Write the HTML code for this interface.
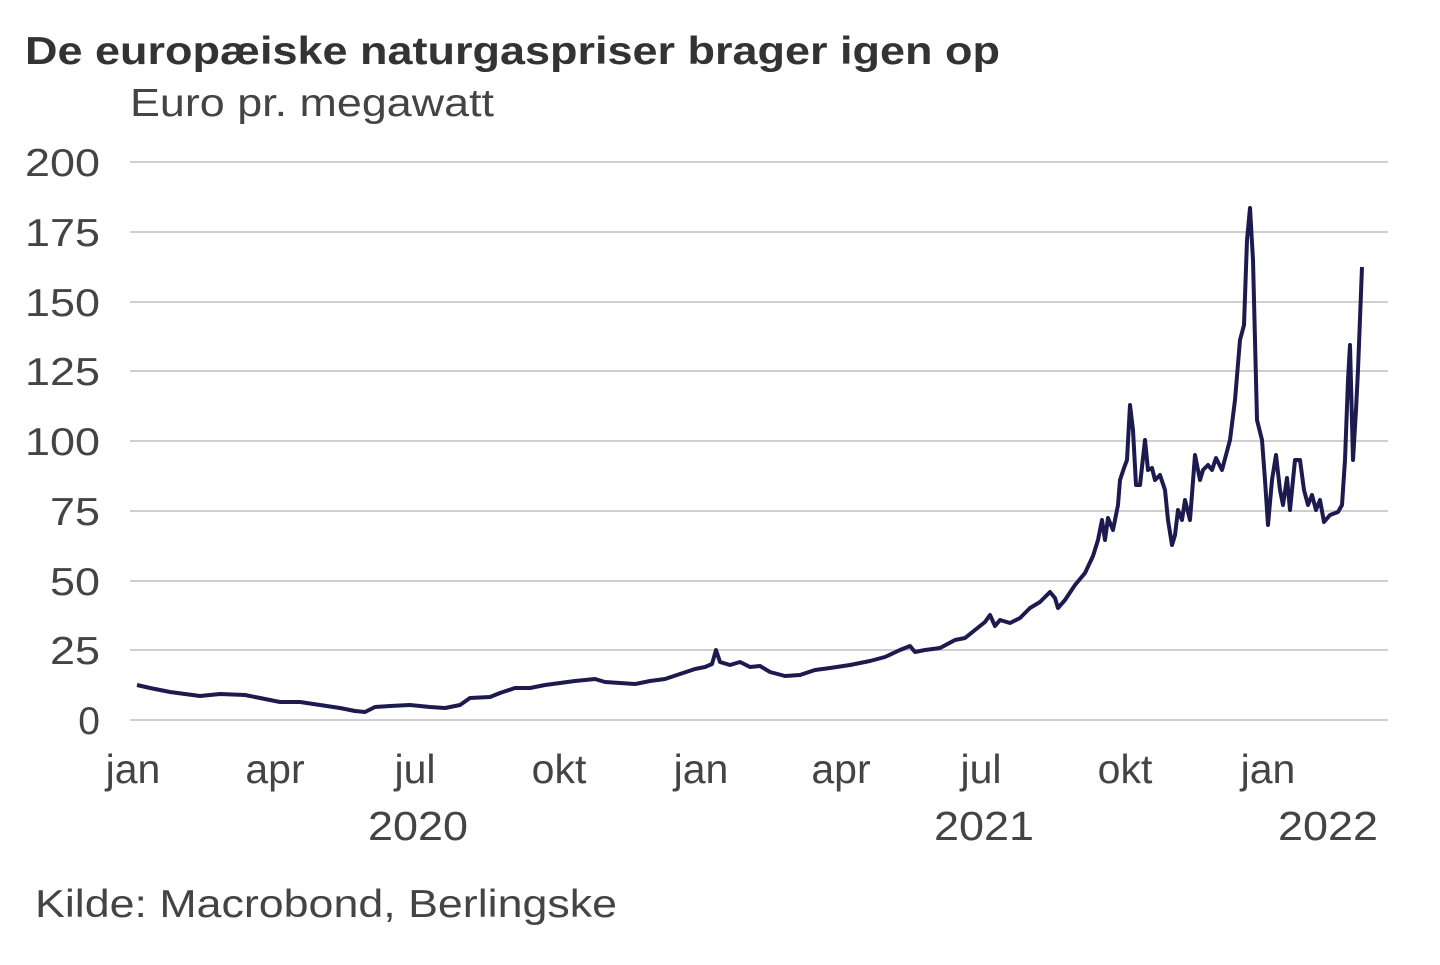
<!DOCTYPE html>
<html><head><meta charset="utf-8"><style>
html,body{margin:0;padding:0;background:#fff;}
body{width:1440px;height:960px;overflow:hidden;font-family:"Liberation Sans",sans-serif;}
</style></head><body>
<svg width="1440" height="960" xmlns="http://www.w3.org/2000/svg" font-family="Liberation Sans, sans-serif">
<text x="25" y="64" font-size="39" font-weight="bold" fill="#333" textLength="975" lengthAdjust="spacingAndGlyphs">De europæiske naturgaspriser brager igen op</text>
<text x="130" y="116" font-size="39" fill="#444" textLength="364" lengthAdjust="spacingAndGlyphs">Euro pr. megawatt</text>
<g stroke="#cfcfcf" stroke-width="2">
<line x1="130" x2="1388" y1="162" y2="162"/><line x1="130" x2="1388" y1="232" y2="232"/>
<line x1="130" x2="1388" y1="302" y2="302"/><line x1="130" x2="1388" y1="371" y2="371"/>
<line x1="130" x2="1388" y1="441" y2="441"/><line x1="130" x2="1388" y1="511" y2="511"/>
<line x1="130" x2="1388" y1="581" y2="581"/><line x1="130" x2="1388" y1="650" y2="650"/>
<line x1="130" x2="1388" y1="720" y2="720"/>
</g>
<g font-size="39" fill="#444" text-anchor="end">
<text x="100" y="176" textLength="75" lengthAdjust="spacingAndGlyphs">200</text><text x="100" y="246" textLength="75" lengthAdjust="spacingAndGlyphs">175</text><text x="100" y="316" textLength="75" lengthAdjust="spacingAndGlyphs">150</text>
<text x="100" y="385" textLength="75" lengthAdjust="spacingAndGlyphs">125</text><text x="100" y="455" textLength="75" lengthAdjust="spacingAndGlyphs">100</text><text x="100" y="525" textLength="50" lengthAdjust="spacingAndGlyphs">75</text>
<text x="100" y="595" textLength="50" lengthAdjust="spacingAndGlyphs">50</text><text x="100" y="664" textLength="50" lengthAdjust="spacingAndGlyphs">25</text><text x="100" y="734">0</text>
</g>
<g font-size="41" fill="#444" text-anchor="middle">
<text x="133" y="783">jan</text><text x="275" y="783">apr</text><text x="415" y="783">jul</text>
<text x="559" y="783">okt</text><text x="701" y="783">jan</text><text x="841" y="783">apr</text>
<text x="981" y="783">jul</text><text x="1125" y="783">okt</text><text x="1268" y="783">jan</text>
<text x="418" y="840" textLength="100" lengthAdjust="spacingAndGlyphs">2020</text><text x="984" y="840" textLength="100" lengthAdjust="spacingAndGlyphs">2021</text><text x="1328" y="840" textLength="100" lengthAdjust="spacingAndGlyphs">2022</text>
</g>
<text x="35" y="917" font-size="39" fill="#444" textLength="582" lengthAdjust="spacingAndGlyphs">Kilde: Macrobond, Berlingske</text>
<polyline fill="none" stroke="#1c1a4e" stroke-width="4" stroke-linejoin="round" points="137,685 150,688 170,692 200,696 220,694 245,695 260,698 280,702 300,702 320,705 340,708 355,711 365,712 375,707 390,706 410,705 430,707 445,708 460,705 470,698 490,697 500,693 515,688 530,688 545,685 560,683 575,681 595,679 605,682 620,683 635,684 650,681 665,679 680,674 695,669 705,667 712,664 716,650 720,662 730,665 740,662 750,667 760,666 770,672 785,676 800,675 815,670 830,668 850,665 870,661 885,657 900,650 910,646 915,652 925,650 940,648 955,640 965,638 975,630 985,622 990,615 995,626 1000,620 1010,623 1020,618 1030,608 1040,602 1050,592 1055,598 1058,608 1065,600 1075,585 1085,573 1093,556 1098,540 1102,520 1105,540 1108,518 1113,530 1118,505 1120,480 1124,468 1127,460 1130,405 1133,430 1136,485 1140,485 1145,440 1148,470 1152,468 1155,480 1160,475 1165,490 1168,520 1172,545 1175,535 1178,510 1182,520 1185,500 1190,520 1195,455 1200,480 1203,470 1208,465 1212,470 1216,458 1222,470 1226,455 1230,440 1235,400 1240,340 1244,325 1247,240 1250,208 1253,260 1257,420 1262,440 1265,480 1268,525 1272,480 1276,455 1280,490 1283,505 1287,478 1290,510 1295,460 1300,460 1304,490 1308,505 1312,495 1316,510 1320,500 1324,522 1330,515 1338,512 1342,505 1345,460 1348,380 1350,345 1353,460 1356,410 1358,370 1362,267"/>
</svg>
</body></html>
